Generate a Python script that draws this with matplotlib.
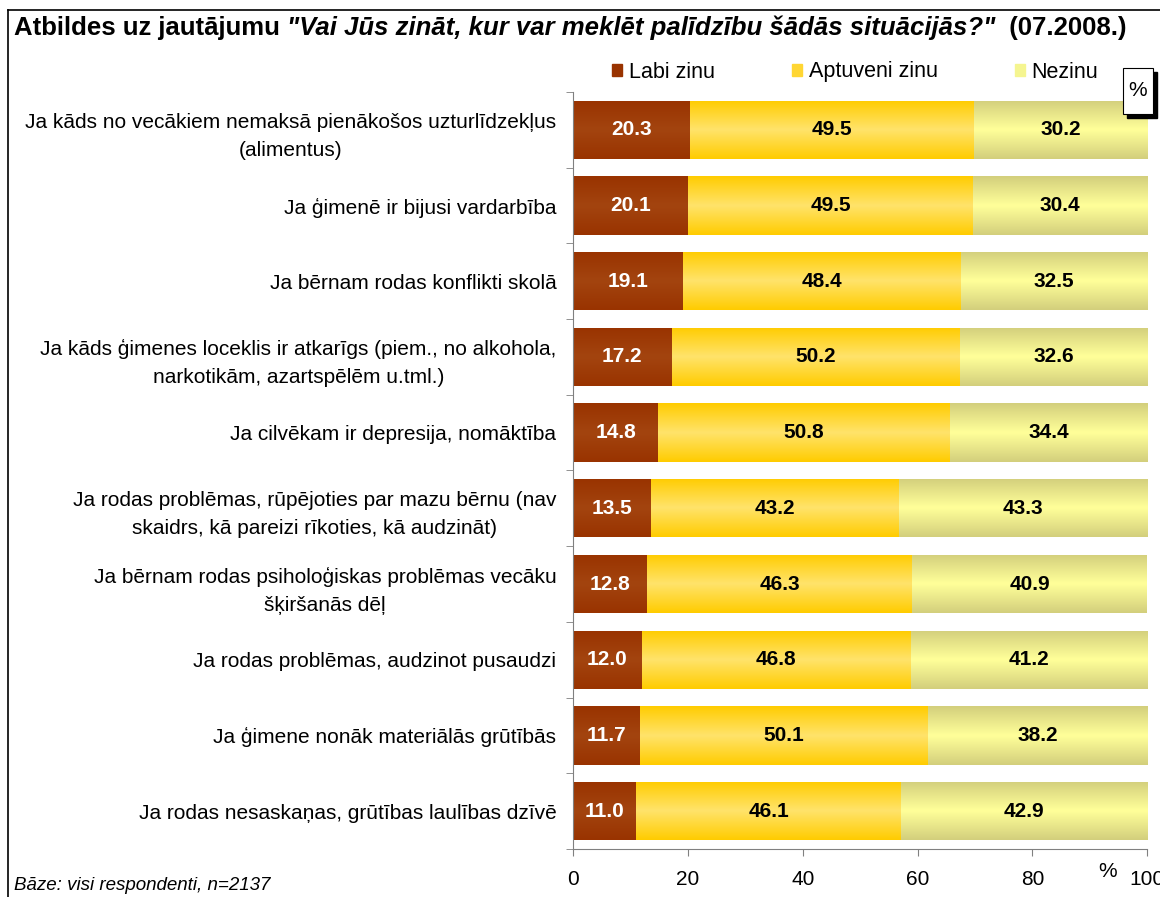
import matplotlib.pyplot as plt
import numpy as np
from matplotlib.lines import Line2D
from matplotlib.colors import LinearSegmentedColormap

plt.rcParams['font.family'] = ['Liberation Sans', 'DejaVu Sans']

categories = [
    "Ja kāds no vecākiem nemaksā pienākošos uzturlīdzekļus\n(alimentus)",
    "Ja ģimenē ir bijusi vardarbība",
    "Ja bērnam rodas konflikti skolā",
    "Ja kāds ģimenes loceklis ir atkarīgs (piem., no alkohola,\nnarkotikām, azartspēlēm u.tml.)",
    "Ja cilvēkam ir depresija, nomāktība",
    "Ja rodas problēmas, rūpējoties par mazu bērnu (nav\nskaidrs, kā pareizi rīkoties, kā audzināt)",
    "Ja bērnam rodas psiholoģiskas problēmas vecāku\nšķiršanās dēļ",
    "Ja rodas problēmas, audzinot pusaudzi",
    "Ja ģimene nonāk materiālās grūtībās",
    "Ja rodas nesaskaņas, grūtības laulības dzīvē",
]
labi = [20.3, 20.1, 19.1, 17.2, 14.8, 13.5, 12.8, 12.0, 11.7, 11.0]
aptuveni = [49.5, 49.5, 48.4, 50.2, 50.8, 43.2, 46.3, 46.8, 50.1, 46.1]
nezinu = [30.2, 30.4, 32.5, 32.6, 34.4, 43.3, 40.9, 41.2, 38.2, 42.9]
series_names = ["Labi zinu", "Aptuveni zinu", "Nezinu"]
xticks = [0, 20, 40, 60, 80, 100]

# edge colour, middle colour for vertical gradient
grads = [("#993300", "#A3440F"), ("#FFCC00", "#FFE36A"), ("#D3CF7C", "#FFFF99")]
txt_col = ["white", "black", "black"]

fig = plt.figure(figsize=(11.6, 8.97), dpi=100)
ax = fig.add_axes([0.494, 0.0535, 0.495, 0.844])

y = np.arange(len(categories))
left = np.zeros(len(categories))
grad = np.concatenate([np.linspace(0, 1, 50), np.linspace(1, 0, 50)]).reshape(-1, 1)
for vals, name, (c0, c1), tc in zip([labi, aptuveni, nezinu], series_names, grads, txt_col):
    bars = ax.barh(y, vals, left=left, height=0.77, color=c1, label=name, edgecolor="none")
    cmap = LinearSegmentedColormap.from_list("g", [c0, c1])
    for b, v, l in zip(bars, vals, left):
        x0, y0 = b.get_x(), b.get_y()
        im = ax.imshow(grad, cmap=cmap, aspect="auto",
                       extent=(x0, x0 + b.get_width(), y0 + b.get_height(), y0),
                       zorder=2, interpolation="bilinear")
        im.set_clip_path(b)
        ax.text(l + v / 2, b.get_y() + b.get_height() / 2, f"{v:.1f}", ha="center", va="center",
                color=tc, fontsize=15, fontweight="bold", zorder=3)
    left = left + np.array(vals)

ax.set_xlim(0, 100)
ax.set_ylim(len(categories) - 0.5, -0.5)
ax.set_xticks(xticks)
ax.set_xticklabels([str(t) for t in xticks], fontsize=15)
ax.tick_params(axis="x", length=5, color="#808080", pad=10)
ax.set_yticks(y)
ax.set_yticklabels(categories, fontsize=15, linespacing=1.6)
for t in ax.get_yticklabels():
    t.set_multialignment("center")
ax.tick_params(axis="y", length=0, pad=12)
ax.set_yticks(np.arange(-0.5, len(categories)), minor=True)
ax.tick_params(axis="y", which="minor", length=5, color="#808080")
for s in ["top", "right"]:
    ax.spines[s].set_visible(False)
for s in ["left", "bottom"]:
    ax.spines[s].set_color("#808080")

ax.text(0.931, -0.03, "%", transform=ax.transAxes, fontsize=15, ha="center", va="center")

leg_handles = [plt.Rectangle((0, 0), 1, 1, color=c) for c in ["#993300", "#FFD633", "#F5F590"]]
fig.legend(leg_handles, series_names, loc="center left", bbox_to_anchor=(612 / 1160, 1 - 72 / 897),
           ncol=3, frameon=False, fontsize=15.5, handlelength=0.47, handleheight=0.47,
           handletextpad=0.3, columnspacing=3.6, borderpad=0, borderaxespad=0)

# % box with shadow
fig.patches.append(plt.Rectangle((1127 / 1160, 1 - 118 / 897), 30 / 1160, 46 / 897,
                                 transform=fig.transFigure, color="black", zorder=5))
fig.patches.append(plt.Rectangle((1123 / 1160, 1 - 114 / 897), 30 / 1160, 46 / 897,
                                 transform=fig.transFigure, facecolor="white", edgecolor="black",
                                 lw=0.8, zorder=6))
fig.text(1138 / 1160, 1 - 90 / 897, "%", fontsize=15, ha="center", va="center", zorder=7)

# outer frame
fig.add_artist(Line2D([8 / 1160, 8 / 1160], [0, 1 - 10 / 897], color="black", lw=1.2))
fig.add_artist(Line2D([8 / 1160, 1], [1 - 10 / 897, 1 - 10 / 897], color="black", lw=1.2))

# title in pieces
tsize = 18.5
t1 = fig.text(14 / 1160, 1 - 35 / 897, "Atbildes uz jautājumu ", fontsize=tsize, fontweight="bold",
              va="baseline")
t2 = fig.text(0, 0, "\"Vai Jūs zināt, kur var meklēt palīdzību šādās situācijās?\"", fontsize=tsize,
              fontweight="bold", style="italic", va="baseline")
t3 = fig.text(0, 0, "  (07.2008.)", fontsize=tsize, fontweight="bold", va="baseline")
fig.canvas.draw()
r = fig.canvas.get_renderer()
bb = t1.get_window_extent(r)
base = t1.get_position()[1]
t2.set_position((bb.x1 / fig.bbox.width, base))
fig.canvas.draw()
bb2 = t2.get_window_extent(r)
t3.set_position((bb2.x1 / fig.bbox.width, base))

fig.text(14 / 1160, 1 - 885 / 897, "Bāze: visi respondenti, n=2137", fontsize=13.5, style="italic",
         va="center")

plt.savefig("out.png", dpi=100)
